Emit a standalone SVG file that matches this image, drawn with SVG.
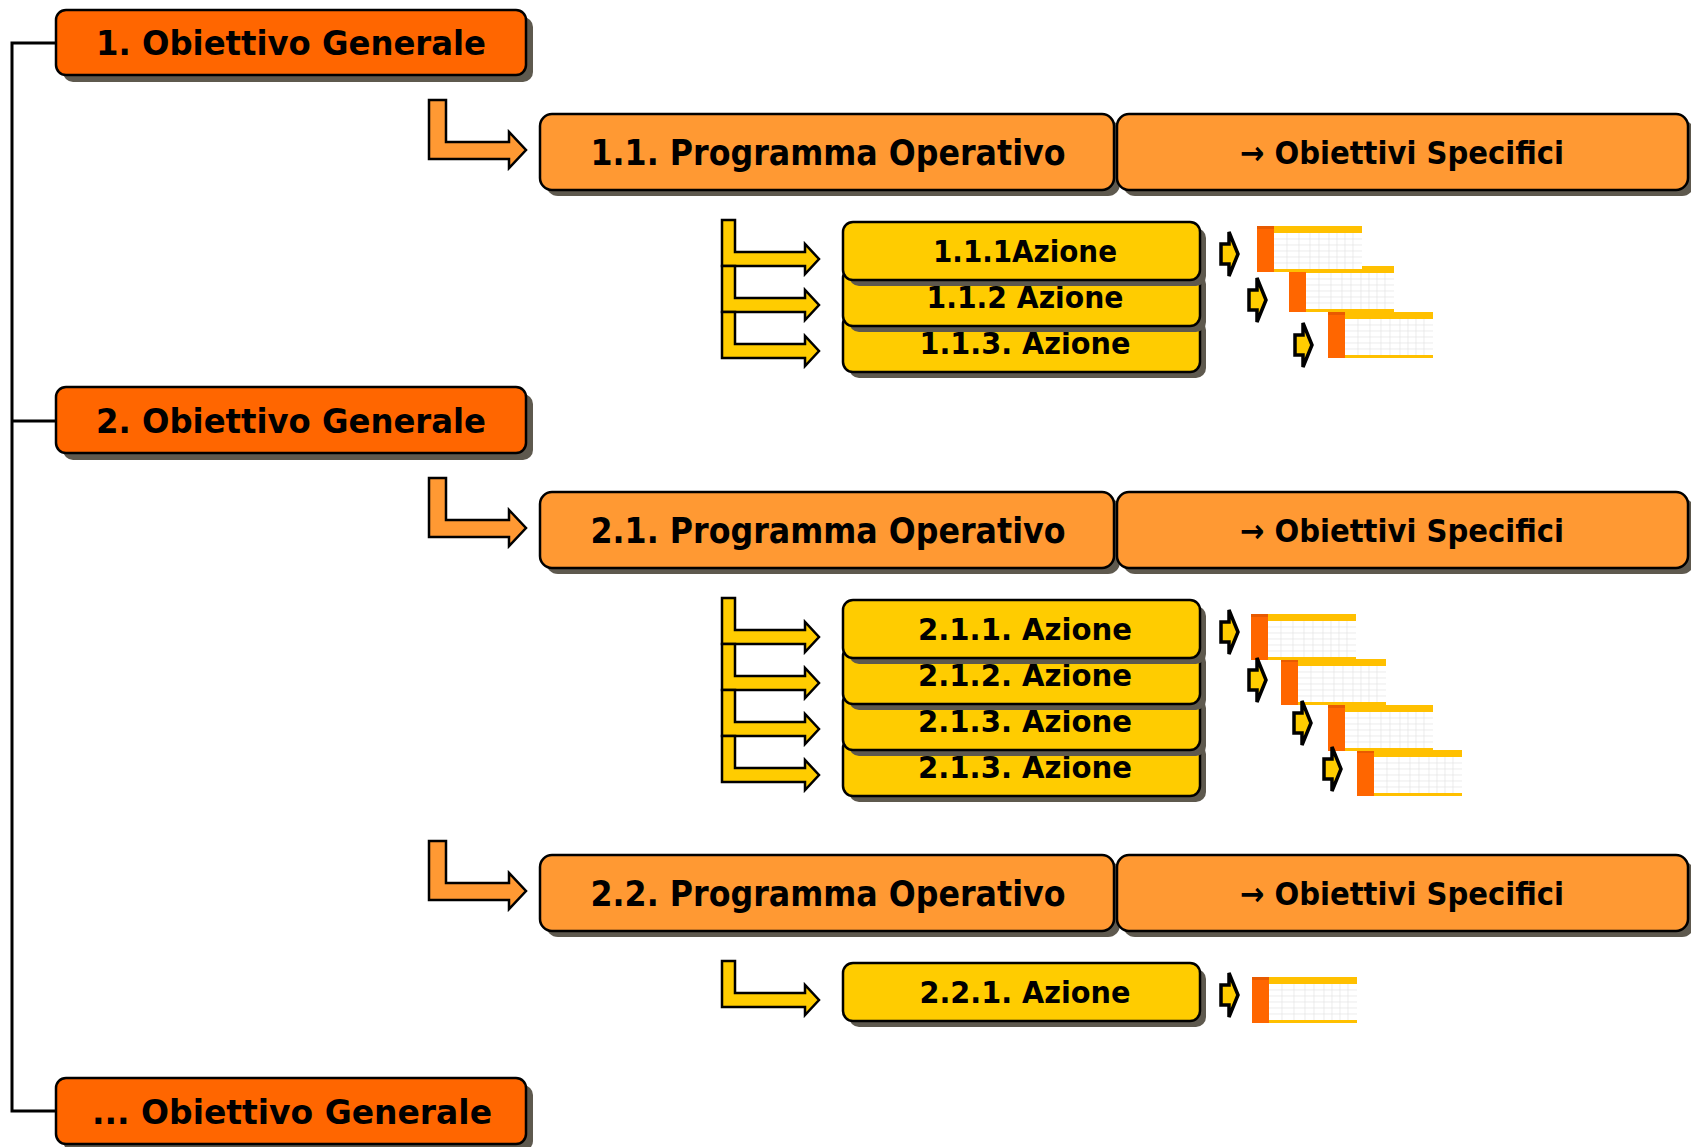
<svg xmlns="http://www.w3.org/2000/svg" xmlns:xlink="http://www.w3.org/1999/xlink" width="1691" height="1147" viewBox="0 0 1691 1147">
<style>
.sh{fill:#5E594E}
.og{fill:#FF6600;stroke:#000;stroke-width:2.5}
.po{fill:#FF9933;stroke:#000;stroke-width:2.5}
.az{fill:#FFCC00;stroke:#000;stroke-width:2.5}
.t{font-family:"DejaVu Sans",sans-serif;font-weight:bold;fill:#000;text-anchor:middle}
.t1{font-size:34px}
.t2{font-size:36px}
.t3{font-size:32px}
.t4{font-size:31px}
.ln{fill:none;stroke:#000;stroke-width:3}
.eo{fill:#FF9933;stroke:#000;stroke-width:2.5;stroke-linejoin:miter}
.ey{fill:#FFCC00;stroke:#000;stroke-width:2.5;stroke-linejoin:miter}
.sa{fill:#FFCC00;stroke:#000;stroke-width:3.5;stroke-linejoin:miter}
.gl{stroke:#E4E4E4;stroke-width:0.7}
</style>
<defs>
<g id="tbl">
<rect x="0" y="0" width="105" height="46" fill="#FFFFFF"/>
<g class="gl">
<line x1="17" y1="13" x2="105" y2="13"/>
<line x1="17" y1="19" x2="105" y2="19"/>
<line x1="17" y1="25" x2="105" y2="25"/>
<line x1="17" y1="31" x2="105" y2="31"/>
<line x1="17" y1="37" x2="105" y2="37"/>
<line x1="30" y1="7" x2="30" y2="43"/>
<line x1="42" y1="7" x2="42" y2="43"/>
<line x1="53" y1="7" x2="53" y2="43"/>
<line x1="62" y1="7" x2="62" y2="43"/>
<line x1="72" y1="7" x2="72" y2="43"/>
<line x1="80" y1="7" x2="80" y2="43"/>
<line x1="88" y1="7" x2="88" y2="43"/>
<line x1="96" y1="7" x2="96" y2="43"/>
</g>
<rect x="0" y="0" width="17" height="46" fill="#FF6600"/>
<rect x="0" y="0" width="17" height="3" fill="#E85A00"/>
<rect x="17" y="0" width="88" height="7" fill="#FFC000"/>
<rect x="17" y="43" width="88" height="3" fill="#FFC000"/>
</g>
<path id="sarr" d="M0,-10 H8 V-22 L17,0 L8,22 V10 H0 Z"/>
</defs>

<g id="connectors">
<path class="ln" d="M56,43 H12 V1111 H56"/>
<path class="ln" d="M12,421 H56"/>
<path class="eo" d="M429,100 H446 V142 H509 V132 L526,150 L509,168 V159 H429 Z"/>
<path class="eo" d="M429,478 H446 V520 H509 V510 L526,528 L509,546 V537 H429 Z"/>
<path class="eo" d="M429,841 H446 V883 H509 V873 L526,891 L509,909 V900 H429 Z"/>
<path class="ey" d="M722,220 H735 V252 H805 V244 L819,259 L805,274 V266 H722 Z"/>
<path class="ey" d="M722,266 H735 V298 H805 V290 L819,305 L805,320 V312 H722 Z"/>
<path class="ey" d="M722,312 H735 V344 H805 V336 L819,351 L805,366 V358 H722 Z"/>
<path class="ey" d="M722,598 H735 V630 H805 V622 L819,637 L805,652 V644 H722 Z"/>
<path class="ey" d="M722,644 H735 V676 H805 V668 L819,683 L805,698 V690 H722 Z"/>
<path class="ey" d="M722,690 H735 V722 H805 V714 L819,729 L805,744 V736 H722 Z"/>
<path class="ey" d="M722,736 H735 V768 H805 V760 L819,775 L805,790 V782 H722 Z"/>
<path class="ey" d="M722,961 H735 V993 H805 V985 L819,1000 L805,1015 V1007 H722 Z"/>
</g>

<g id="og1"><rect class="sh" x="63" y="17" width="470" height="65" rx="10"/><rect class="og" x="56" y="10" width="470" height="65" rx="10"/><text class="t t1" x="291" y="55" textLength="390" lengthAdjust="spacingAndGlyphs">1. Obiettivo Generale</text></g>
<g id="og2"><rect class="sh" x="63" y="394" width="470" height="66" rx="10"/><rect class="og" x="56" y="387" width="470" height="66" rx="10"/><text class="t t1" x="291" y="433" textLength="390" lengthAdjust="spacingAndGlyphs">2. Obiettivo Generale</text></g>
<g id="og3"><rect class="sh" x="63" y="1085" width="470" height="66" rx="10"/><rect class="og" x="56" y="1078" width="470" height="66" rx="10"/><text class="t t1" x="292" y="1124" textLength="400" lengthAdjust="spacingAndGlyphs">... Obiettivo Generale</text></g>

<g id="po11"><rect class="sh" x="546" y="120" width="574" height="76" rx="12"/><rect class="po" x="540" y="114" width="574" height="76" rx="12"/><text class="t t2" x="828" y="165" textLength="475" lengthAdjust="spacingAndGlyphs">1.1. Programma Operativo</text></g>
<g id="os11"><rect class="sh" x="1123" y="120" width="571" height="76" rx="12"/><rect class="po" x="1117" y="114" width="571" height="76" rx="12"/><text class="t t3" x="1402" y="164" textLength="324" lengthAdjust="spacingAndGlyphs">→ Obiettivi Specifici</text></g>
<g id="po21"><rect class="sh" x="546" y="498" width="574" height="76" rx="12"/><rect class="po" x="540" y="492" width="574" height="76" rx="12"/><text class="t t2" x="828" y="543" textLength="475" lengthAdjust="spacingAndGlyphs">2.1. Programma Operativo</text></g>
<g id="os21"><rect class="sh" x="1123" y="498" width="571" height="76" rx="12"/><rect class="po" x="1117" y="492" width="571" height="76" rx="12"/><text class="t t3" x="1402" y="542" textLength="324" lengthAdjust="spacingAndGlyphs">→ Obiettivi Specifici</text></g>
<g id="po22"><rect class="sh" x="546" y="861" width="574" height="76" rx="12"/><rect class="po" x="540" y="855" width="574" height="76" rx="12"/><text class="t t2" x="828" y="906" textLength="475" lengthAdjust="spacingAndGlyphs">2.2. Programma Operativo</text></g>
<g id="os22"><rect class="sh" x="1123" y="861" width="571" height="76" rx="12"/><rect class="po" x="1117" y="855" width="571" height="76" rx="12"/><text class="t t3" x="1402" y="905" textLength="324" lengthAdjust="spacingAndGlyphs">→ Obiettivi Specifici</text></g>

<g id="az113"><rect class="sh" x="849" y="320" width="357" height="58" rx="10"/><rect class="az" x="843" y="314" width="357" height="58" rx="10"/><text class="t t4" x="1025" y="354" textLength="211" lengthAdjust="spacingAndGlyphs">1.1.3. Azione</text></g>
<g id="az112"><rect class="sh" x="849" y="274" width="357" height="58" rx="10"/><rect class="az" x="843" y="268" width="357" height="58" rx="10"/><text class="t t4" x="1025" y="308" textLength="197" lengthAdjust="spacingAndGlyphs">1.1.2 Azione</text></g>
<g id="az111"><rect class="sh" x="849" y="228" width="357" height="58" rx="10"/><rect class="az" x="843" y="222" width="357" height="58" rx="10"/><text class="t t4" x="1025" y="262" textLength="184" lengthAdjust="spacingAndGlyphs">1.1.1Azione</text></g>

<g id="az214"><rect class="sh" x="849" y="744" width="357" height="58" rx="10"/><rect class="az" x="843" y="738" width="357" height="58" rx="10"/><text class="t t4" x="1025" y="778" textLength="214" lengthAdjust="spacingAndGlyphs">2.1.3. Azione</text></g>
<g id="az213"><rect class="sh" x="849" y="698" width="357" height="58" rx="10"/><rect class="az" x="843" y="692" width="357" height="58" rx="10"/><text class="t t4" x="1025" y="732" textLength="214" lengthAdjust="spacingAndGlyphs">2.1.3. Azione</text></g>
<g id="az212"><rect class="sh" x="849" y="652" width="357" height="58" rx="10"/><rect class="az" x="843" y="646" width="357" height="58" rx="10"/><text class="t t4" x="1025" y="686" textLength="214" lengthAdjust="spacingAndGlyphs">2.1.2. Azione</text></g>
<g id="az211"><rect class="sh" x="849" y="606" width="357" height="58" rx="10"/><rect class="az" x="843" y="600" width="357" height="58" rx="10"/><text class="t t4" x="1025" y="640" textLength="214" lengthAdjust="spacingAndGlyphs">2.1.1. Azione</text></g>

<g id="az221"><rect class="sh" x="849" y="969" width="357" height="58" rx="10"/><rect class="az" x="843" y="963" width="357" height="58" rx="10"/><text class="t t4" x="1025" y="1003" textLength="211" lengthAdjust="spacingAndGlyphs">2.2.1. Azione</text></g>

<g id="tables">
<use xlink:href="#tbl" transform="translate(1328,312)"/>
<use xlink:href="#tbl" transform="translate(1289,266)"/>
<use xlink:href="#tbl" transform="translate(1257,226)"/>
<use xlink:href="#tbl" transform="translate(1357,750)"/>
<use xlink:href="#tbl" transform="translate(1328,705)"/>
<use xlink:href="#tbl" transform="translate(1281,659)"/>
<use xlink:href="#tbl" transform="translate(1251,614)"/>
<use xlink:href="#tbl" transform="translate(1252,977)"/>
</g>

<g id="small-arrows">
<use xlink:href="#sarr" class="sa" transform="translate(1221,254)"/>
<use xlink:href="#sarr" class="sa" transform="translate(1249,300)"/>
<use xlink:href="#sarr" class="sa" transform="translate(1295,345)"/>
<use xlink:href="#sarr" class="sa" transform="translate(1221,632)"/>
<use xlink:href="#sarr" class="sa" transform="translate(1249,680)"/>
<use xlink:href="#sarr" class="sa" transform="translate(1294,723)"/>
<use xlink:href="#sarr" class="sa" transform="translate(1324,769)"/>
<use xlink:href="#sarr" class="sa" transform="translate(1221,995)"/>
</g>
</svg>
